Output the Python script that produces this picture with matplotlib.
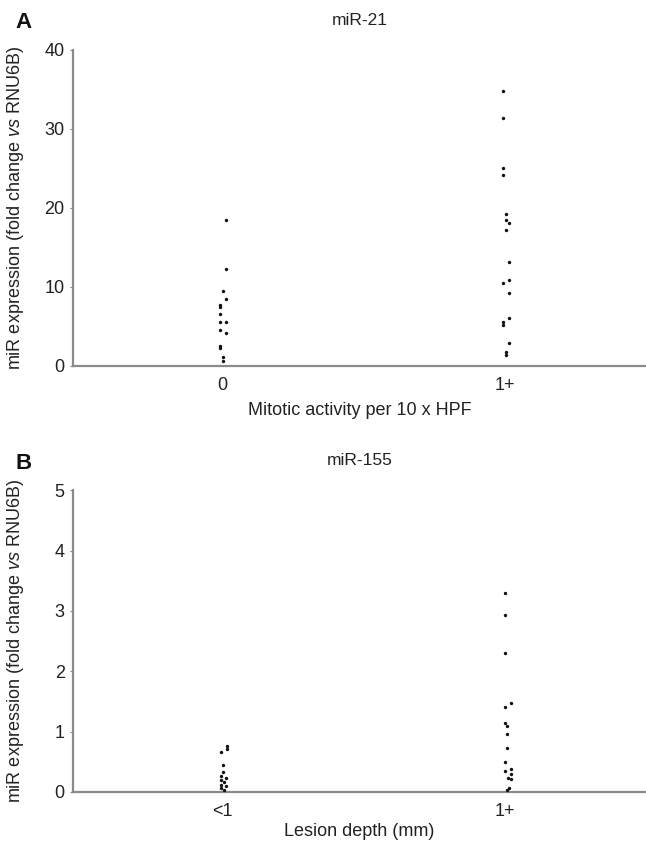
import matplotlib.pyplot as plt

plt.rcParams['font.family'] = ['Liberation Sans', 'DejaVu Sans']
plt.rcParams['mathtext.fontset'] = 'custom'
plt.rcParams['mathtext.rm'] = 'Liberation Sans'
plt.rcParams['mathtext.it'] = 'Liberation Sans:italic'

# Panel A: miR-21 vs mitotic activity
a_cats = ['0', '1+']
a_zero = [18.4, 12.2, 9.5, 8.4, 7.7, 7.5, 6.5, 5.5, 5.5, 4.6, 4.1, 2.5, 2.2, 1.1, 0.6]
a_zero_jit = [0.012, 0.012, 0.0, 0.012, -0.01, -0.01, -0.01, -0.01, 0.012, -0.01, 0.012, -0.01, -0.01, 0.0, 0.0]
a_one = [34.8, 31.3, 25.0, 24.2, 19.2, 18.5, 18.1, 17.2, 13.1, 10.9, 10.5, 9.2, 6.0, 5.6, 5.2, 2.9, 1.8, 1.4]
a_one_jit = [-0.008, -0.008, -0.008, -0.008, 0.004, 0.004, 0.014, 0.004, 0.014, 0.014, -0.008, 0.014,
             0.014, -0.008, -0.008, 0.014, 0.004, 0.004]

# Panel B: miR-155 vs lesion depth
b_cats = ['<1', '1+']
b_zero = [0.76, 0.72, 0.66, 0.45, 0.33, 0.27, 0.24, 0.2, 0.17, 0.12, 0.1, 0.06, 0.04]
b_zero_jit = [0.016, 0.016, -0.004, 0.0, 0.0, -0.004, 0.012, -0.004, 0.006, -0.004, 0.012, -0.004, 0.004]
b_one = [3.3, 2.94, 2.3, 1.48, 1.4, 1.14, 1.1, 0.96, 0.73, 0.5, 0.38, 0.34, 0.3, 0.23, 0.21, 0.06, 0.03]
b_one_jit = [0.0, 0.0, 0.0, 0.02, 0.0, 0.0, 0.008, 0.008, 0.008, 0.0, 0.02, 0.0, 0.02, 0.012, 0.02, 0.016, 0.008]

ylab = r'miR expression (fold change $\it{vs}$ RNU6B)'
grey = '#8a8a8a'
txt = '#222222'

fig = plt.figure(figsize=(6.46, 8.43), dpi=100)
axA = fig.add_axes([0.113, 0.566, 0.887, 0.375])
axB = fig.add_axes([0.113, 0.0605, 0.887, 0.358])


def panel(ax, vals0, jit0, vals1, jit1, cats, ymax, yticks, title, xlabel, letter, xpad):
    ax.scatter([1 + j for j in jit0], vals0, s=6, marker='o', color='#111111', linewidths=0, clip_on=False, zorder=3)
    ax.scatter([2 + j for j in jit1], vals1, s=6, marker='o', color='#111111', linewidths=0, clip_on=False, zorder=3)
    ax.set_xlim(0.47, 2.5)
    ax.set_ylim(0, ymax)
    ax.set_xticks([1, 2])
    ax.set_xticklabels(cats)
    ax.set_yticks(yticks)
    for s in ['top', 'right']:
        ax.spines[s].set_visible(False)
    for s in ['left', 'bottom']:
        ax.spines[s].set_color(grey)
        ax.spines[s].set_linewidth(1.6)
    ax.tick_params(axis='y', length=2, color=grey, labelsize=13, labelcolor=txt, pad=4)
    ax.tick_params(axis='x', length=0, labelsize=13, labelcolor=txt, pad=8)
    ax.set_title(title, fontsize=12.5, color=txt, pad=18)
    ax.set_xlabel(xlabel, fontsize=13, color=txt, labelpad=xpad)
    ax.set_ylabel(ylab, fontsize=13, color=txt)
    ax.yaxis.set_label_coords(-0.082, 0.5)
    ax.text(-0.1, 1.07, letter, transform=ax.transAxes, fontsize=16, fontweight='bold', color='#111111')


panel(axA, a_zero, a_zero_jit, a_one, a_one_jit, a_cats, 40, [0, 10, 20, 30, 40],
      'miR-21', 'Mitotic activity per 10 x HPF', 'A', 6)
panel(axB, b_zero, b_zero_jit, b_one, b_one_jit, b_cats, 5, [0, 1, 2, 3, 4, 5],
      'miR-155', 'Lesion depth (mm)', 'B', 2)

plt.savefig('out.png', dpi=100)
